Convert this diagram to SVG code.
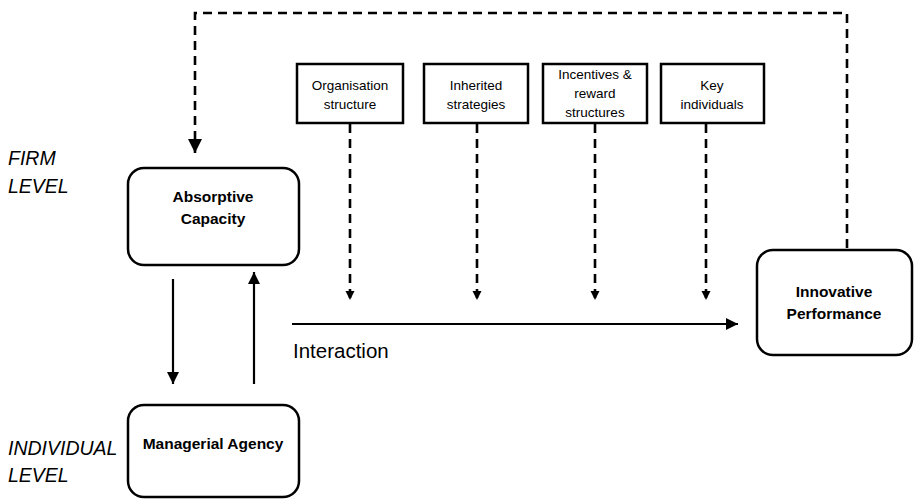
<svg xmlns="http://www.w3.org/2000/svg" width="914" height="499" viewBox="0 0 914 499">
  <style>
    text { font-family: "Liberation Sans", Arial, sans-serif; fill: #000; }
    .node { fill: #fff; stroke: #000; stroke-width: 2.5; }
    .box { fill: #fff; stroke: #000; stroke-width: 2.5; }
    .bold { font-weight: bold; font-size: 15.5px; text-anchor: middle; }
    .small { font-size: 13.5px; text-anchor: middle; }
    .level { font-style: italic; font-size: 19.5px; }
    .solid { fill: none; stroke: #000; stroke-width: 2.2; }
    .dash { fill: none; stroke: #000; stroke-width: 2.6; stroke-dasharray: 9 6; }
  </style>
  <defs>
    <marker id="head" viewBox="0 0 10 10" refX="10" refY="5" markerWidth="5.5" markerHeight="5.5" orient="auto" markerUnits="strokeWidth">
      <path d="M0,0 L10,5 L0,10 z" fill="#000"/>
    </marker>
    <marker id="headLarge" viewBox="0 0 10 10" refX="10" refY="5" markerWidth="5.6" markerHeight="5.4" orient="auto" markerUnits="strokeWidth">
      <path d="M0,0 L10,5 L0,10 z" fill="#000"/>
    </marker>
    <marker id="headSmall" viewBox="0 0 10 10" refX="10" refY="5" markerWidth="3.5" markerHeight="4.7" orient="auto" markerUnits="strokeWidth">
      <path d="M0,0 L10,5 L0,10 z" fill="#000"/>
    </marker>
  </defs>

  <!-- level labels -->
  <text class="level" x="8" y="165">FIRM</text>
  <text class="level" x="8" y="193">LEVEL</text>
  <text class="level" x="8" y="455">INDIVIDUAL</text>
  <text class="level" x="8" y="482">LEVEL</text>

  <!-- connectors -->
  <g id="connectors">
    <path class="dash" d="M847,248 V13 H195 V153" marker-end="url(#headLarge)"/>
    <path class="dash" d="M350,124 V300" marker-end="url(#headSmall)"/>
    <path class="dash" d="M477,124 V300" marker-end="url(#headSmall)"/>
    <path class="dash" d="M595,124 V300" marker-end="url(#headSmall)"/>
    <path class="dash" d="M706,124 V300" marker-end="url(#headSmall)"/>
    <path class="solid" d="M292,324 H738" marker-end="url(#head)"/>
    <path class="solid" d="M173,279 V384" marker-end="url(#head)"/>
    <path class="solid" d="M254,384 V272" marker-end="url(#head)"/>
    <text x="293" y="358" style="font-size:20.5px">Interaction</text>
  </g>

  <g id="absorptive-capacity">
    <rect class="node" x="128" y="168" width="171" height="97" rx="16"/>
    <text class="bold" x="213" y="202">Absorptive</text>
    <text class="bold" x="213" y="224">Capacity</text>
  </g>

  <g id="managerial-agency">
    <rect class="node" x="128" y="405" width="171" height="92" rx="16"/>
    <text class="bold" x="213" y="449">Managerial Agency</text>
  </g>

  <g id="innovative-performance">
    <rect class="node" x="757" y="250" width="155" height="105" rx="16"/>
    <text class="bold" x="834" y="297">Innovative</text>
    <text class="bold" x="834" y="319">Performance</text>
  </g>

  <g id="organisation-structure">
    <rect class="box" x="297" y="64" width="106" height="59"/>
    <text class="small" x="350" y="90">Organisation</text>
    <text class="small" x="350" y="109">structure</text>
  </g>

  <g id="inherited-strategies">
    <rect class="box" x="424" y="64" width="104" height="59"/>
    <text class="small" x="476" y="90">Inherited</text>
    <text class="small" x="476" y="109">strategies</text>
  </g>

  <g id="incentives">
    <rect class="box" x="543" y="64" width="104" height="59"/>
    <text class="small" x="595" y="79">Incentives &amp;</text>
    <text class="small" x="595" y="98">reward</text>
    <text class="small" x="595" y="117">structures</text>
  </g>

  <g id="key-individuals">
    <rect class="box" x="661" y="64" width="103" height="59"/>
    <text class="small" x="712" y="90">Key</text>
    <text class="small" x="712" y="109">individuals</text>
  </g>
</svg>
